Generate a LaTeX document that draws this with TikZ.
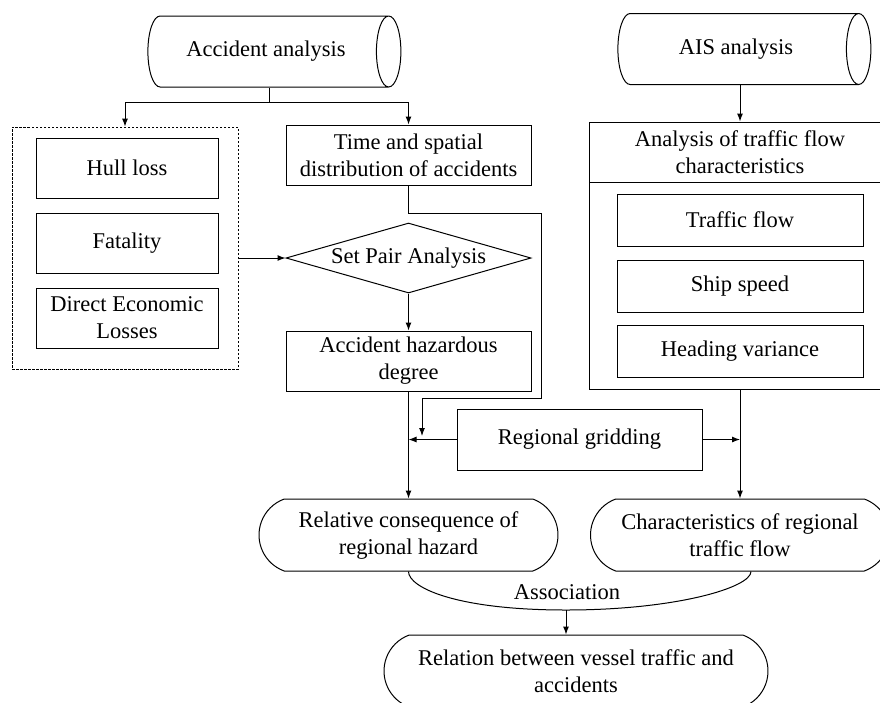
\documentclass[tikz,border=0pt]{standalone}
\usepackage{fontspec}
\setmainfont{Liberation Serif}
\usetikzlibrary{shapes.geometric,shapes.misc,arrows.meta}
\tikzset{every node/.style={font=\fontsize{22.5}{27}\selectfont, align=center, inner sep=2pt}}
\tikzset{box/.style={draw, rectangle, minimum width=245pt, minimum height=60pt},
  cyl/.style={draw, cylinder, aspect=1, minimum width=71pt, minimum height=253pt},
  decide/.style={draw, diamond, aspect=3.5, inner sep=0pt, minimum width=245pt, minimum height=70pt},
  term/.style={draw, rounded rectangle, rounded rectangle arc length=140, minimum width=303pt, minimum height=72pt},
  grp/.style={draw, rectangle, dash pattern=on 2.5pt off 1.5pt, line width=0.8pt, minimum width=226pt, minimum height=242pt},
  arr/.style={-{Latex[length=8pt,width=6pt]}}}

\begin{document}
\begin{tikzpicture}[x=1pt,y=-1pt,line width=1pt]
  \useasboundingbox (0,0) rectangle (880,702);
  \clip (0,0) rectangle (880,702);
  % sources
  \node[cyl] (acc) at (266,51.5) {Accident analysis};
  \node[cyl] (ais) at (736,49) {AIS analysis};
  % consequence group
  \node[grp] (loss) at (125,248) {};
  \node[box, minimum width=182pt] (hull) at (127,168) {Hull loss};
  \node[box, minimum width=182pt] (fat) at (127,243) {Fatality};
  \node[box, minimum width=182pt] (eco) at (127,318) {Direct Economic\\Losses};
  % accident branch
  \node[box] (tsd) at (408.5,155) {Time and spatial\\distribution of accidents};
  \node[decide] (spa) at (408.5,258) {Set Pair Analysis};
  \node[box] (haz) at (408.5,361) {Accident hazardous\\degree};
  \node[box, minimum height=61pt] (grid) at (579.5,439.5) {Regional gridding};
  % traffic branch
  \node[box, minimum width=302pt, minimum height=267pt] (traf) at (740,255.5) {};
  \node[box, minimum width=302pt, anchor=north] (trafhd) at (traf.north) {Analysis of traffic flow\\characteristics};
  \node[box, minimum width=246pt, minimum height=52pt] (flow) at (740,220) {Traffic flow};
  \node[box, minimum width=246pt, minimum height=52pt] (speed) at (740,286) {Ship speed};
  \node[box, minimum width=246pt, minimum height=52pt] (head) at (740,351.5) {Heading variance};
  % results
  \node[term] (rel) at (408.5,535) {Relative consequence of\\regional hazard};
  \node[term] (chr) at (740,535) {Characteristics of regional\\traffic flow};
  \node[term, minimum width=388pt] (vta) at (576,671) {Relation between vessel traffic and\\accidents};
  % connectors
  \coordinate (fork) at ([xshift=3pt]acc.south |- 0,102);
  \draw (fork |- acc.south) -- (fork);
  \draw[arr] (fork) -| (loss.north);
  \draw[arr] (fork) -| (tsd.north);
  \draw[arr] (ais.south -| traf.north) -- (traf.north);
  \draw[arr] (loss.east |- spa.west) -- (spa.west);
  \draw[arr] (spa.south) -- (haz.north);
  \draw[arr] (haz.south) -- (rel.north);
  \coordinate (tdrop) at (422,436);
  \draw[arr] (tsd.south) |- (541,213) |- (422,398) -- (tdrop);
  \draw[arr] (grid.west) -- (grid.west -| haz.south);
  \draw[arr] (grid.east) -- (grid.east -| traf.south);
  \draw[arr] (traf.south) -- (chr.north);
  \coordinate (assoc) at (566,610);
  \draw (rel.south) .. controls +(0,16) and +(-110,0) .. (assoc)
    .. controls +(110,0) and +(0,16) .. ([xshift=11pt]chr.south);
  \node (asstxt) at (567,592) {Association};
  \draw[arr] (assoc) -- (assoc |- vta.north);
\end{tikzpicture}
\end{document}
